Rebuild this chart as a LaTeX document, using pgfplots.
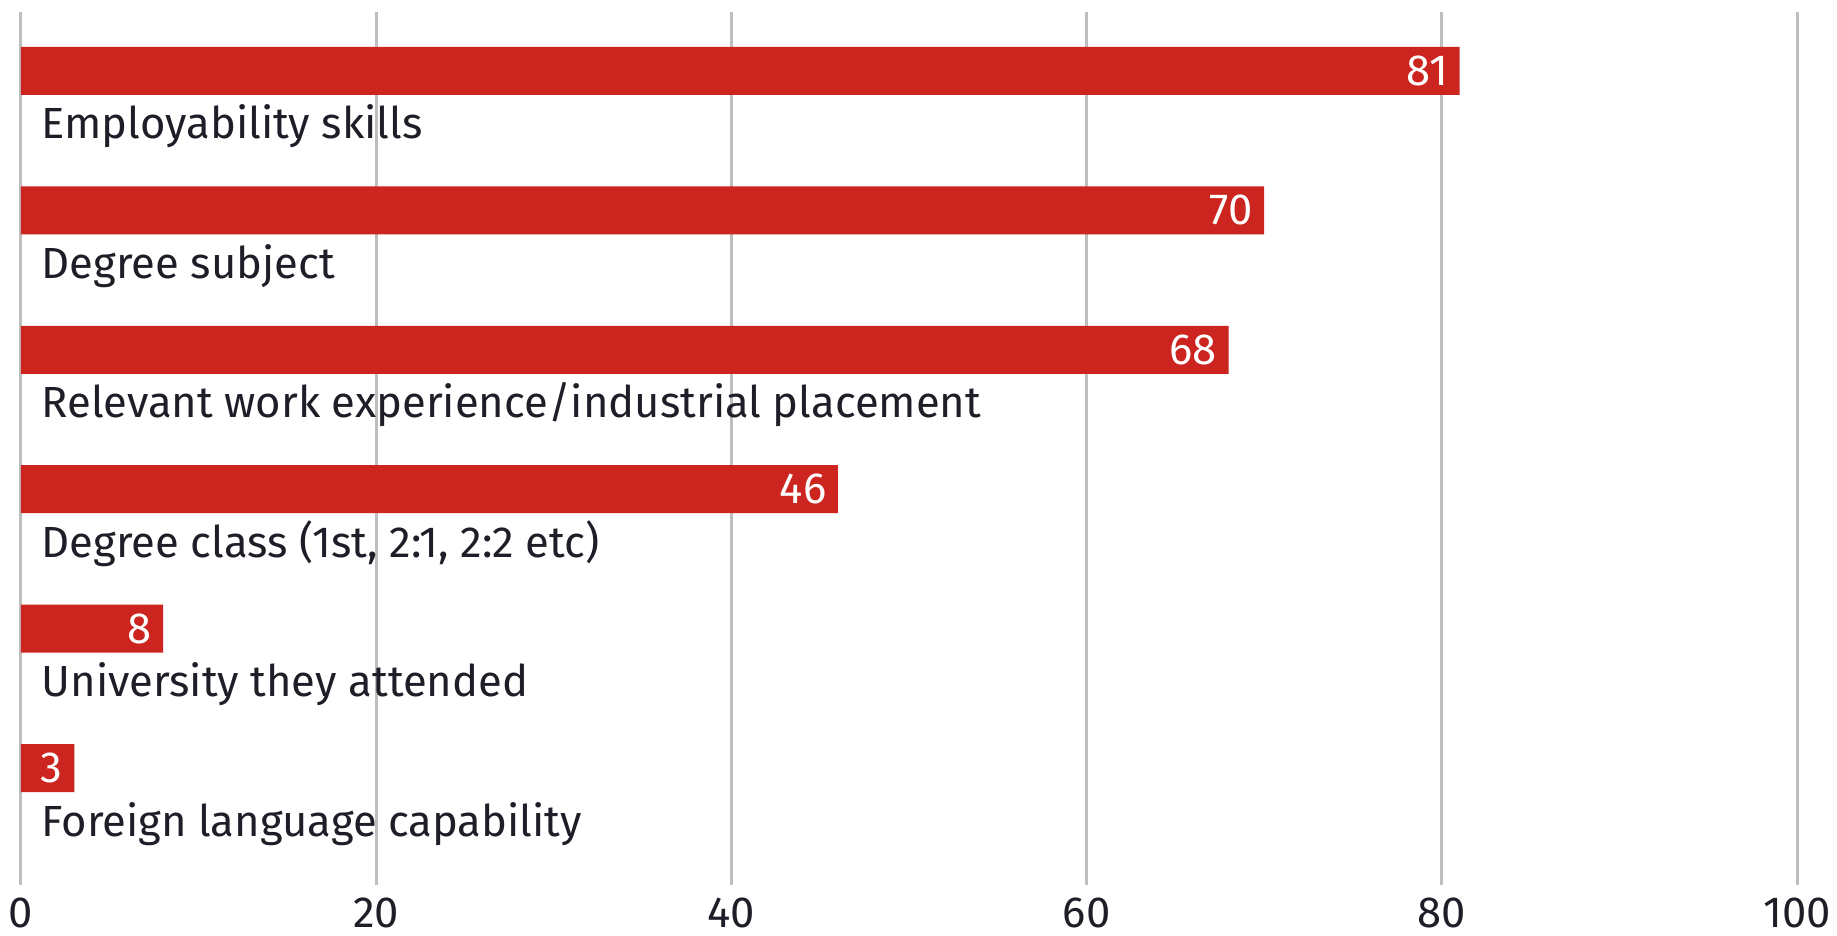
\documentclass[border=0pt]{standalone}
\usepackage{fontspec}
\setmainfont{Fira Sans}
\usepackage{pgfplots}
\pgfplotsset{compat=1.18}
\usetikzlibrary{calc}
\definecolor{barred}{RGB}{204,36,30}
\definecolor{txt}{RGB}{30,30,40}
\definecolor{gridgray}{RGB}{190,190,190}
\begin{document}
\begin{tikzpicture}
\begin{axis}[
  scale only axis,
  width=177.6mm, height=87.3mm,
  xmin=0, xmax=100,
  ymin=-0.423, ymax=5.839,
  y dir=reverse,
  axis line style={draw=none},
  major tick length=0pt,
  xtick={0,20,40,60,80,100},
  xmajorgrids,
  grid style={gridgray, line width=0.3mm},
  ytick={0,1,2,3,4,5},
  yticklabels={Employability skills, Degree subject, Relevant work experience/industrial placement, {Degree class (1st, 2:1, 2:2 etc)}, University they attended, Foreign language capability},
  yticklabel style={anchor=base west, inner sep=0pt, xshift=2.0mm, yshift=-6.8mm, text=txt},
  xticklabel style={anchor=north, inner sep=0pt, yshift=-1.2mm, text=txt},
  /pgf/number format/assume math mode=true,
  font=\fontsize{12.4}{14}\selectfont,
  xbar, bar width=4.8mm, bar shift=0pt,
  nodes near coords,
  nodes near coords style={anchor=east, inner sep=0pt, xshift=-1.1mm, text=white, font=\fontsize{12.4}{14}\selectfont},
  clip=false,
]
\addplot[fill=barred, draw=none] coordinates {(81,0) (70,1) (68,2) (46,3) (8,4) (3,5)};
\coordinate (bl) at (rel axis cs:0,0);
\coordinate (tr) at (rel axis cs:1,1);
\end{axis}
\pgfresetboundingbox
\path[use as bounding box] ($(bl)+(-2.1mm,-5.1mm)$) rectangle ($(tr)+(4.0mm,1.2mm)$);
\end{tikzpicture}
\end{document}
